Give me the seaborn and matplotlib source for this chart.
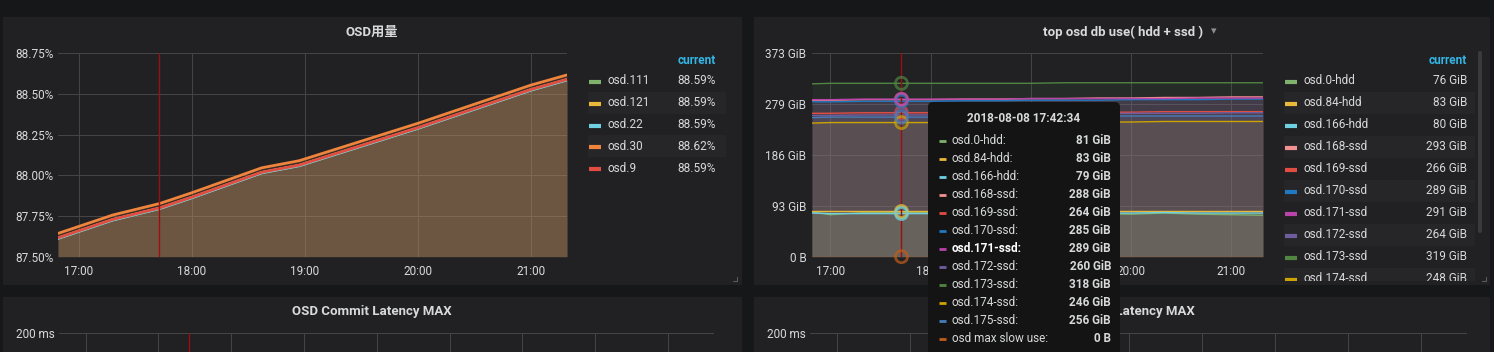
import matplotlib
matplotlib.use("Agg")
import matplotlib.pyplot as plt
from matplotlib.patches import Rectangle, FancyBboxPatch
import numpy as np
import pandas as pd
import seaborn as sns

# ---- panel 1: OSD用量 (percent) ----
t1 = ["16:49", "17:18", "17:43", "18:00", "18:37", "18:57", "20:00", "21:00", "21:19"]
osd_111 = [87.614, 87.727, 87.798, 87.864, 88.017, 88.061, 88.291, 88.526, 88.588]
osd_121 = [87.614, 87.727, 87.798, 87.864, 88.017, 88.061, 88.291, 88.526, 88.588]
osd_22 = [87.612, 87.725, 87.796, 87.862, 88.015, 88.059, 88.289, 88.524, 88.586]
osd_30 = [87.643, 87.756, 87.827, 87.893, 88.046, 88.090, 88.320, 88.555, 88.617]
osd_9 = [87.616, 87.729, 87.800, 87.866, 88.019, 88.063, 88.293, 88.528, 88.590]
names1 = ["osd.111", "osd.121", "osd.22", "osd.30", "osd.9"]
current1 = ["88.59%", "88.59%", "88.59%", "88.62%", "88.59%"]
yticks1 = [87.50, 87.75, 88.00, 88.25, 88.50, 88.75]

# ---- panel 2: top osd db use (GiB) ----
t2 = ["16:49", "17:00", "17:20", "17:42", "18:00", "18:20", "18:40", "19:00",
      "19:20", "19:40", "20:00", "20:20", "20:40", "21:00", "21:19"]
osd_0_hdd = [82, 77, 81, 81, 81, 80, 80, 79, 79, 79, 78, 80, 78, 77, 76]
osd_84_hdd = [83, 83, 83, 83, 83, 83, 83, 83, 83, 83, 83, 83, 83, 83, 83]
osd_166_hdd = [80, 79, 79, 79, 79, 79, 79, 79, 80, 80, 80, 81, 80, 80, 80]
osd_168_ssd = [287, 287, 288, 288, 288, 289, 289, 290, 290, 291, 291, 292, 292, 293, 293]
osd_169_ssd = [263, 263, 264, 264, 264, 264, 265, 265, 265, 265, 265, 266, 266, 266, 266]
osd_170_ssd = [284, 284, 285, 285, 285, 286, 286, 287, 287, 287, 288, 288, 288, 289, 289]
osd_171_ssd = [288, 288, 289, 289, 289, 289, 289, 290, 290, 290, 290, 290, 291, 291, 291]
osd_172_ssd = [259, 259, 260, 260, 260, 261, 261, 262, 262, 262, 263, 263, 263, 264, 264]
osd_173_ssd = [317, 318, 318, 318, 318, 318, 318, 318, 319, 319, 319, 319, 319, 319, 319]
osd_174_ssd = [245, 246, 246, 246, 246, 246, 247, 247, 247, 247, 247, 248, 248, 248, 248]
osd_175_ssd = [255, 256, 256, 256, 256, 257, 257, 257, 257, 258, 258, 258, 258, 258, 258]
osd_slow = [0, 0, 0, 0, 0, 0, 0, 0, 0, 0, 0, 0, 0, 0, 0]
names2 = ["osd.0-hdd", "osd.84-hdd", "osd.166-hdd", "osd.168-ssd", "osd.169-ssd",
          "osd.170-ssd", "osd.171-ssd", "osd.172-ssd", "osd.173-ssd", "osd.174-ssd",
          "osd.175-ssd", "osd max slow use"]
current2 = ["76 GiB", "83 GiB", "80 GiB", "293 GiB", "266 GiB", "289 GiB",
            "291 GiB", "264 GiB", "319 GiB", "248 GiB"]
hover_time = "17:42:34"
hover_date = "2018-08-08"
hover_vals = [81, 83, 79, 288, 264, 285, 289, 260, 318, 246, 256, 0]
hover_text = ["81 GiB", "83 GiB", "79 GiB", "288 GiB", "264 GiB", "285 GiB",
              "289 GiB", "260 GiB", "318 GiB", "246 GiB", "256 GiB", "0 B"]
yticks2 = [0, 93.25, 186.5, 279.75, 373]
ylabels2 = ["0 B", "93 GiB", "186 GiB", "279 GiB", "373 GiB"]

# ---- bottom panels (only the top of them is on screen) ----
yticks3 = [200]
xticks_hours = ["17:00", "18:00", "19:00", "20:00", "21:00"]
xgrid_bottom = ["17:00", "17:30", "18:00", "18:30", "19:00", "19:30", "20:00", "20:30", "21:00"]

colors1 = ["#7EB26D", "#EAB839", "#6ED0E0", "#EF843C", "#E24D42"]
colors2 = ["#7EB26D", "#EAB839", "#6ED0E0", "#F29191", "#E24D42", "#1F78C1",
           "#BA43A9", "#705DA0", "#508642", "#CCA300", "#447EBC", "#C15C17"]

BG = "#161719"
PANEL = "#212124"
TXT = "#d8d9da"
GRID = "#444447"
CROSS = "#9a1010"
W, H = 1494, 352


def hrs(s):
    p = [int(v) for v in s.split(":")]
    return p[0] + p[1] / 60 + (p[2] / 3600 if len(p) > 2 else 0)


sns.set_style("dark")
plt.rcParams["font.family"] = ["Roboto", "Noto Sans CJK SC", "DejaVu Sans"]

fig = plt.figure(figsize=(W / 100, H / 100), dpi=100, facecolor=BG)
bg = fig.add_axes([0, 0, 1, 1], zorder=0)
bg.set_xlim(0, W)
bg.set_ylim(H, 0)
bg.axis("off")
for x0, y0, x1, y1 in [(3, 17, 742, 285), (754, 17, 1490, 285), (3, 297, 742, 400), (754, 297, 1490, 400)]:
    bg.add_patch(Rectangle((x0, y0), x1 - x0, y1 - y0, color=PANEL, lw=0))


def px_axes(x0, y0, x1, y1):
    ax = fig.add_axes([x0 / W, 1 - y1 / H, (x1 - x0) / W, (y1 - y0) / H], zorder=1)
    ax.set_facecolor("none")
    for s in ax.spines.values():
        s.set_visible(False)
    ax.grid(True, color=GRID, lw=0.75)
    return ax


xlim = (hrs("16:49"), hrs("21:19"))
ht = hrs(hover_time)

# panel 1
ax1 = px_axes(58, 53.3, 567, 256.7)
x1 = [hrs(t) for t in t1]
series1 = [osd_111, osd_121, osd_22, osd_30, osd_9]
df1 = pd.DataFrame({"t": x1 * 5, "v": sum(series1, []),
                    "series": [n for n in names1 for _ in t1]})
for vals, c in zip(series1, colors1):
    ax1.fill_between(x1, vals, 87.5, color=c, alpha=0.12, lw=0)
sns.lineplot(data=df1, x="t", y="v", hue="series", hue_order=names1,
             palette=dict(zip(names1, colors1)), legend=False, ax=ax1, lw=2,
             estimator=None, sort=False)
ax1.axvline(ht, color=CROSS, lw=1)
ax1.set_xlim(*xlim)
ax1.set_ylim(87.5, 88.75)
ax1.set_yticks(yticks1)
ax1.set_yticklabels([f"{v:.2f}%" for v in yticks1])
ax1.set_xticks([hrs(t) for t in xticks_hours])
ax1.set_xticklabels(xticks_hours)
ax1.tick_params(axis="y", length=0, colors=TXT, labelsize=8.5, pad=3)
ax1.tick_params(axis="x", length=0, colors=TXT, labelsize=8.5, pad=6)
ax1.set_xlabel("")
ax1.set_ylabel("")

# panel 2
ax2 = px_axes(812, 53.3, 1263, 256.7)
x2 = [hrs(t) for t in t2]
series2 = [osd_0_hdd, osd_84_hdd, osd_166_hdd, osd_168_ssd, osd_169_ssd, osd_170_ssd,
           osd_171_ssd, osd_172_ssd, osd_173_ssd, osd_174_ssd, osd_175_ssd, osd_slow]
df2 = pd.DataFrame({"t": x2 * len(series2), "v": sum(series2, []),
                    "series": [n for n in names2 for _ in t2]})
for vals, c in zip(series2, colors2):
    ax2.fill_between(x2, vals, 0, color=c, alpha=0.1, lw=0)
sns.lineplot(data=df2, x="t", y="v", hue="series", hue_order=names2,
             palette=dict(zip(names2, colors2)), legend=False, ax=ax2, lw=1,
             estimator=None, sort=False)
ax2.axvline(ht, color=CROSS, lw=1)
ax2.scatter([ht] * len(hover_vals), hover_vals, s=75, facecolors="none",
            edgecolors=colors2, linewidths=2, alpha=0.7, zorder=5, clip_on=False)
ax2.set_xlim(*xlim)
ax2.set_ylim(0, 373)
ax2.set_yticks(yticks2)
ax2.set_yticklabels(ylabels2)
ax2.set_xticks([hrs(t) for t in xticks_hours])
ax2.set_xticklabels(xticks_hours)
ax2.tick_params(axis="y", length=0, colors=TXT, labelsize=8.5, pad=4)
ax2.tick_params(axis="x", length=0, colors=TXT, labelsize=8.5, pad=6)
ax2.set_xlabel("")
ax2.set_ylabel("")

# bottom panels
for l, r in [(59, 714), (810, 1467)]:
    ax = px_axes(l, 333, r, 533)
    ax.set_xlim(*xlim)
    ax.set_ylim(0, 200)
    ax.set_xticks([hrs(t) for t in xgrid_bottom])
    ax.set_xticklabels([])
    ax.set_yticks(yticks3)
    ax.set_yticklabels([f"{v} ms" for v in yticks3])
    ax.tick_params(axis="both", length=0, colors=TXT, labelsize=8.5, pad=3)
    ax.axvline(ht, color=CROSS, lw=1)

# titles
bg.text(372, 32, "OSD用量", color=TXT, fontsize=9.5, fontweight="bold", ha="center", va="center")
bg.text(1123, 32, "top osd db use( hdd + ssd )", color=TXT, fontsize=9.5, fontweight="bold",
        ha="center", va="center")
bg.text(1214, 31, "▾", color="#8e8e8e", fontsize=8, ha="center", va="center",
        family=["DejaVu Sans"])
bg.text(372, 312, "OSD Commit Latency MAX", color=TXT, fontsize=9.5, fontweight="bold",
        ha="center", va="center")
bg.text(1122, 312, "OSD Apply Latency MAX", color=TXT, fontsize=9.5, fontweight="bold",
        ha="center", va="center")

# corner marks
for cx in (737, 1486):
    bg.plot([cx - 4, cx, cx], [281, 281, 277], color="#5a5a5e", lw=0.8)

# legend panel 1
bg.text(716, 60, "current", color="#33b5e5", fontsize=8.5, fontweight="bold", ha="right", va="center")
for i, (n, v, c) in enumerate(zip(names1, current1, colors1)):
    y = 80.7 + 21.9 * i
    if i % 2 == 1:
        bg.add_patch(Rectangle((588, y - 11), 138, 22, color="#262629", lw=0))
    bg.plot([589, 601], [y + 1, y + 1], color=c, lw=3, solid_capstyle="butt")
    bg.text(608, y, n, color=TXT, fontsize=8.5, ha="left", va="center")
    bg.text(716, y, v, color=TXT, fontsize=8.5, ha="right", va="center")

# legend panel 2 (scrolling list, clipped)
clip = Rectangle((1280, 40), 200, 241, transform=bg.transData)
bg.text(1467, 60, "current", color="#33b5e5", fontsize=8.5, fontweight="bold", ha="right", va="center")
for i, (n, v) in enumerate(zip(names2, current2)):
    c = colors2[i]
    y = 80.7 + 22 * i
    if i % 2 == 1:
        p = Rectangle((1284, y - 11), 191, 22, color="#262629", lw=0)
        bg.add_patch(p)
        p.set_clip_path(clip)
    ln, = bg.plot([1285, 1297], [y + 1, y + 1], color=c, lw=3, solid_capstyle="butt")
    ln.set_clip_path(clip)
    t = bg.text(1304, y, n, color=TXT, fontsize=8.5, ha="left", va="center", clip_on=True)
    t.set_clip_path(clip)
    t = bg.text(1467, y, v, color=TXT, fontsize=8.5, ha="right", va="center", clip_on=True)
    t.set_clip_path(clip)
bg.add_patch(FancyBboxPatch((1478, 51), 4, 182, boxstyle="round,pad=0,rounding_size=2",
                            color="#3a3a3e", lw=0))

# tooltip overlay
ov = fig.add_axes([0, 0, 1, 1], zorder=10)
ov.set_xlim(0, W)
ov.set_ylim(H, 0)
ov.axis("off")
ov.add_patch(FancyBboxPatch((928, 102), 192, 280, boxstyle="round,pad=0,rounding_size=5",
                            color="#141414", lw=0))
ov.text(1024, 119, f"{hover_date} {hover_time}", color=TXT, fontsize=8.5, fontweight="bold",
        ha="center", va="center")
for i, (n, v) in enumerate(zip(names2, hover_text)):
    y = 140.7 + 18 * i
    ov.plot([939, 946], [y, y], color=colors2[i], lw=2, solid_capstyle="butt")
    ov.text(952, y, n + ":", color="white" if n == "osd.171-ssd" else TXT, fontsize=8.5,
            fontweight="bold" if n == "osd.171-ssd" else "normal", ha="left", va="center")
    ov.text(1111, y, v, color=TXT, fontsize=8.5, fontweight="bold", ha="right", va="center")

fig.savefig("out.png", dpi=100, facecolor=BG)
